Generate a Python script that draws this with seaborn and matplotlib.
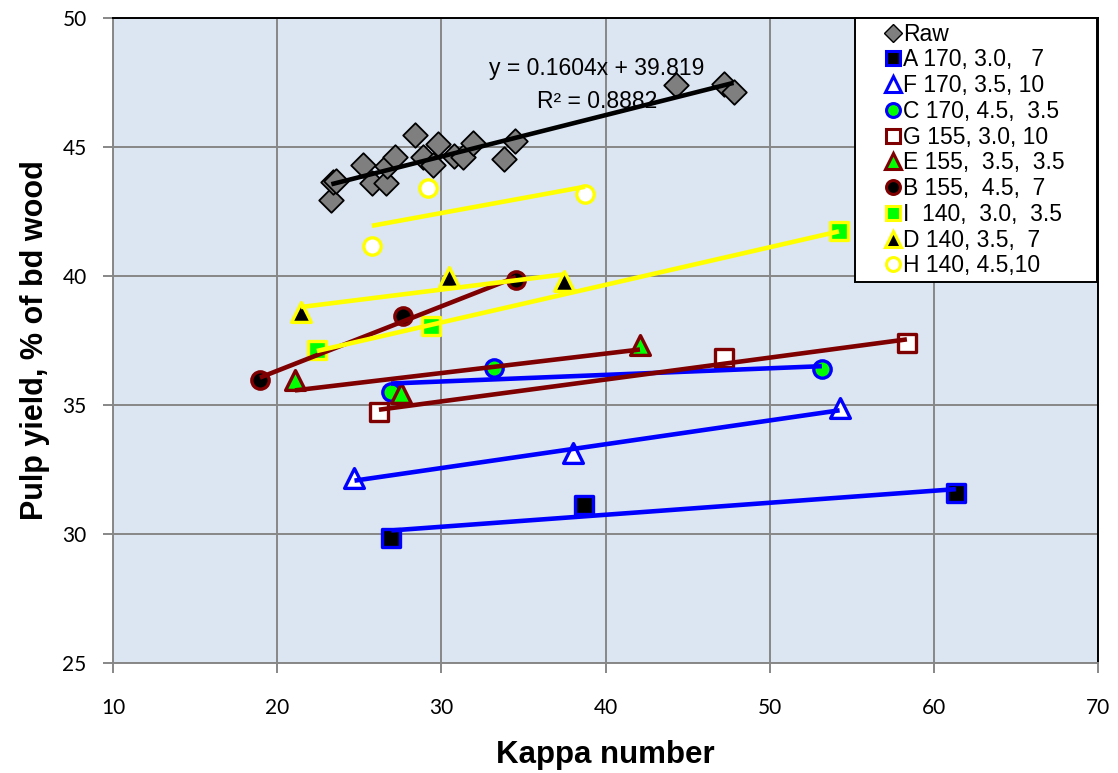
import numpy as np
import matplotlib
matplotlib.use("Agg")
import matplotlib.pyplot as plt
from matplotlib.lines import Line2D
from matplotlib.patches import Rectangle
import seaborn as sns

# ---- data: kappa number vs pulp yield ----
raw_kappa = [23.3, 23.4, 23.6, 25.2, 25.8, 26.6, 26.7, 27.2, 28.4, 28.9,
             29.5, 29.8, 30.8, 31.3, 31.9, 33.8, 34.5, 44.3, 47.2, 47.8]
raw_yield = [42.95, 43.65, 43.7, 44.3, 43.6, 43.6, 44.25, 44.6, 45.45, 44.6,
             44.3, 45.1, 44.65, 44.6, 45.15, 44.55, 45.25, 47.4, 47.45, 47.15]
raw_slope = 0.1604
raw_intercept = 39.819
raw_r2 = 0.8882

series_labels = ["A 170, 3.0,   7", "F 170, 3.5, 10", "C 170, 4.5,  3.5",
                 "G 155, 3.0, 10", "E 155,  3.5,  3.5", "B 155,  4.5,  7",
                 "I  140,  3.0,  3.5", "D 140, 3.5,  7", "H 140, 4.5,10"]
series_kappa = [
    [26.95, 38.68, 61.34],   # A
    [24.71, 38.04, 54.26],   # F
    [26.93, 33.20, 53.18],   # C
    [26.20, 47.21, 58.36],   # G
    [21.08, 27.55, 42.10],   # E
    [18.95, 27.66, 34.54],   # B
    [22.42, 29.37, 54.22],   # I
    [21.45, 30.46, 37.47],   # D
    [25.77, 29.18, 38.75],   # H
]
series_yield = [
    [29.85, 31.12, 31.59],
    [32.16, 33.13, 34.87],
    [35.50, 36.43, 36.40],
    [34.74, 36.82, 37.40],
    [35.97, 35.47, 37.33],
    [35.97, 38.45, 39.84],
    [37.13, 38.06, 41.74],
    [38.60, 39.96, 39.81],
    [41.16, 43.41, 43.18],
]

BLUE, MAROON, YELLOW, GREEN = "#0000FF", "#7F0000", "#FFFF00", "#00FF00"
# (marker, edge colour, face colour, trendline colour)
series_style = [
    ("s", BLUE, "black", BLUE),
    ("^", BLUE, "white", BLUE),
    ("o", BLUE, GREEN, BLUE),
    ("s", MAROON, "white", MAROON),
    ("^", MAROON, GREEN, MAROON),
    ("o", MAROON, "black", MAROON),
    ("s", YELLOW, GREEN, YELLOW),
    ("^", YELLOW, "black", YELLOW),
    ("o", YELLOW, "white", YELLOW),
]

sns.set_theme(style="white")
plt.rcParams["font.family"] = ["Liberation Sans", "DejaVu Sans"]
plt.rcParams["text.color"] = "black"
plt.rcParams["axes.labelcolor"] = "black"
plt.rcParams["xtick.labelcolor"] = "black"
plt.rcParams["ytick.labelcolor"] = "black"

fig = plt.figure(figsize=(11.18, 7.73), dpi=100)
ax = fig.add_axes([113 / 1118, 1 - 663 / 773, 985 / 1118, 645 / 773])
ax.set_facecolor("#DCE6F2")

MS = 12.5   # marker size (pt)
MEW = 2.4   # marker edge width
TLW = 3.3   # trendline width

# raw pulp points and their stated linear trendline
sns.scatterplot(x=raw_kappa, y=raw_yield, marker="D", s=12.5 ** 2,
                color="#7F7F7F", edgecolor="black", linewidth=1.3, ax=ax,
                zorder=3, legend=False)
xr = np.array([min(raw_kappa), max(raw_kappa)])
ax.plot(xr, raw_slope * xr + raw_intercept, color="black", lw=TLW,
        solid_capstyle="butt", zorder=5)

# cooking series with their least-squares trendlines
for kx, ky, (mk, ec, fc, lc) in zip(series_kappa, series_yield, series_style):
    size = MS ** 2 * (1.3 if mk == "^" else 1.0)
    sns.scatterplot(x=kx, y=ky, marker=mk, s=size, color=fc,
                    edgecolor=ec, linewidth=MEW, ax=ax, zorder=3, legend=False)
    sns.regplot(x=np.array(kx), y=np.array(ky), ci=None, scatter=False,
                truncate=True, ax=ax,
                line_kws=dict(color=lc, lw=TLW, zorder=5,
                              solid_capstyle="butt"))

ax.text(39.48, 48.05, f"y = {raw_slope}x + {raw_intercept}", ha="center",
        va="center", fontsize=16.5, zorder=6)
ax.text(39.48, 46.75, f"R² = {raw_r2}", ha="center", va="center",
        fontsize=16.5, zorder=6)

ax.set_xlim(10, 70)
ax.set_ylim(25, 50)
ax.set_xticks(range(10, 71, 10))
ax.set_yticks(range(25, 51, 5))
ax.grid(True, color="#878787", lw=1.4)
ax.set_axisbelow(True)

for side in ("top", "right"):
    ax.spines[side].set_color("black")
    ax.spines[side].set_linewidth(1.4)
for side in ("left", "bottom"):
    ax.spines[side].set_color("#878787")
    ax.spines[side].set_linewidth(1.4)
ax.tick_params(axis="both", direction="out", length=7, width=1.4,
               color="#878787", labelcolor="black", labelsize=15,
               bottom=True, left=True)
ax.tick_params(axis="x", pad=18)
ax.tick_params(axis="y", pad=12)
for lab in ax.get_xticklabels() + ax.get_yticklabels():
    lab.set_family(["Lato", "DejaVu Sans"])

ax.set_xlabel("Kappa number", fontsize=22.5, fontweight="bold", labelpad=16)
ax.set_ylabel("Pulp yield, % of bd wood", fontsize=22, fontweight="bold",
              labelpad=9)

# legend box (white panel, black border) in the upper-right corner
ax.add_patch(Rectangle(((855 - 113) / 985, (663 - 282) / 645),
                       (1097 - 855) / 985, 1 - (663 - 282) / 645,
                       transform=ax.transAxes, facecolor="white",
                       edgecolor="black", lw=1.4, zorder=9, clip_on=False))

# legend entries: markers only
handles = [Line2D([], [], ls="none", marker="D", ms=9, mfc="#7F7F7F",
                  mec="black", mew=1.0, label="Raw")]
for lab, (mk, ec, fc, lc) in zip(series_labels, series_style):
    handles.append(Line2D([], [], ls="none", marker=mk,
                          ms=11 if mk == "^" else 10, mfc=fc,
                          mec=ec, mew=2.2, label=lab))
leg = ax.legend(handles=handles, loc="upper left",
                bbox_to_anchor=((879 - 113) / 985, 1.0),
                fontsize=16.5, frameon=False, handlelength=0.8,
                handletextpad=0.05, labelspacing=0.12, borderpad=0.2,
                borderaxespad=0)
leg.set_zorder(10)

fig.savefig("out.png", dpi=100, facecolor="white")
